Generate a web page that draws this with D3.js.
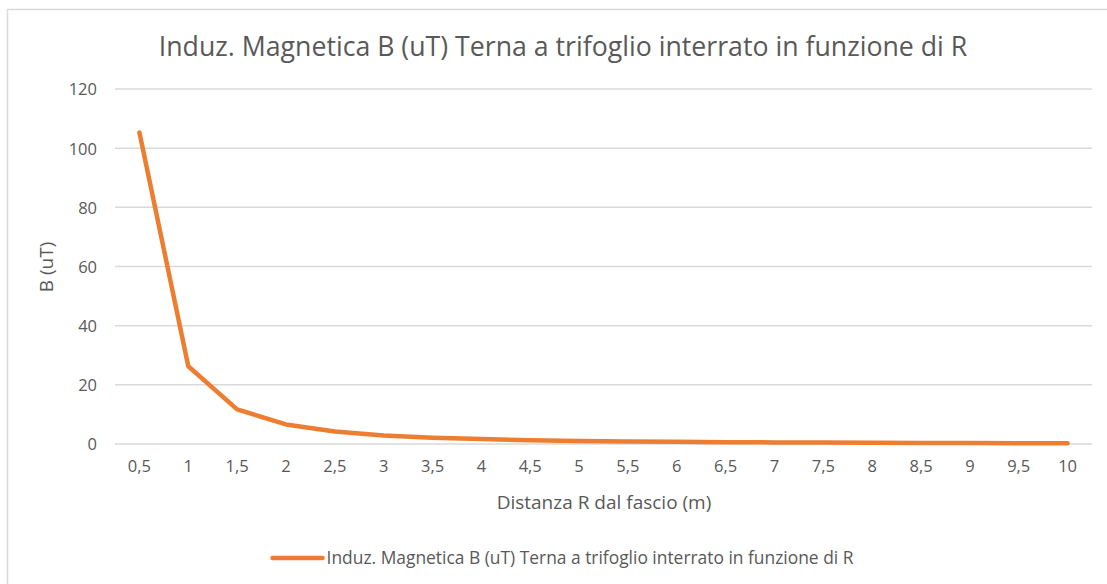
<!DOCTYPE html>
<html>
<head>
<meta charset="utf-8">
<script src="https://cdn.jsdelivr.net/npm/d3@7"></script>
<style>
  body { margin: 0; background: #fff; }
  text { font-family: "Open Sans", sans-serif; fill: #595959; }
</style>
</head>
<body>
<div id="chart"></div>
<script>
// Data
const distances = ["0,5", "1", "1,5", "2", "2,5", "3", "3,5", "4", "4,5", "5",
                   "5,5", "6", "6,5", "7", "7,5", "8", "8,5", "9", "9,5", "10"];
const fieldValues = [105.3, 26.3, 11.7, 6.6, 4.2, 2.9, 2.15, 1.65, 1.3, 1.05,
                     0.87, 0.73, 0.62, 0.54, 0.47, 0.41, 0.36, 0.33, 0.29, 0.26];
const yTicks = [0, 20, 40, 60, 80, 100, 120];

const chartTitle = "Induz. Magnetica B (uT) Terna a trifoglio interrato in funzione di R";
const seriesName = "Induz. Magnetica B (uT) Terna a trifoglio interrato in funzione di R";

const width = 1107;
const height = 584;
const plot = { left: 115, right: 1092, top: 89, bottom: 444 };
const centerX = 563;

const svg = d3.select("#chart")
  .append("svg")
  .attr("width", width)
  .attr("height", height);

// Chart area border (runs off the right and bottom edges)
svg.append("rect")
  .attr("x", 7.5)
  .attr("y", 9.5)
  .attr("width", 1120)
  .attr("height", 600)
  .attr("fill", "white")
  .attr("stroke", "#d9d9d9")
  .attr("stroke-width", 1.5);

// Scales
const x = d3.scaleBand()
  .domain(distances)
  .range([plot.left, plot.right]);

const y = d3.scaleLinear()
  .domain([0, 120])
  .range([plot.bottom, plot.top]);

// Gridlines
svg.append("g")
  .selectAll("line")
  .data(yTicks)
  .enter().append("line")
  .attr("x1", plot.left)
  .attr("x2", plot.right)
  .attr("y1", d => y(d))
  .attr("y2", d => y(d))
  .attr("stroke", "#d9d9d9")
  .attr("stroke-width", 1.5);

// Y axis labels
const yAxis = svg.append("g")
  .attr("transform", `translate(${plot.left - 18}, 0)`)
  .call(d3.axisLeft(y).tickValues(yTicks).tickSize(0).tickPadding(0));
yAxis.select(".domain").remove();
yAxis.selectAll("text")
  .style("font-size", "16.5px")
  .attr("dy", "0.36em");

// X axis labels
const xAxis = svg.append("g")
  .attr("transform", `translate(0, ${plot.bottom})`)
  .call(d3.axisBottom(x).tickSize(0).tickPadding(16));
xAxis.select(".domain").remove();
xAxis.selectAll("text")
  .style("font-size", "16.5px");

// Line
const line = d3.line()
  .x((d, i) => x(distances[i]) + x.bandwidth() / 2)
  .y(d => y(d));

svg.append("path")
  .datum(fieldValues)
  .attr("d", line)
  .attr("fill", "none")
  .attr("stroke", "#ed7d31")
  .attr("stroke-width", 4.5)
  .attr("stroke-linejoin", "round")
  .attr("stroke-linecap", "round");

// Title
svg.append("text")
  .attr("x", centerX)
  .attr("y", 56)
  .attr("text-anchor", "middle")
  .style("font-size", "26.7px")
  .text(chartTitle);

// Axis titles
svg.append("text")
  .attr("x", 604)
  .attr("y", 509)
  .attr("text-anchor", "middle")
  .style("font-size", "19px")
  .text("Distanza R dal fascio (m)");

svg.append("text")
  .attr("transform", "translate(53, 267) rotate(-90)")
  .attr("text-anchor", "middle")
  .style("font-size", "19px")
  .text("B (uT)");

// Legend
const legend = svg.append("g");
legend.append("line")
  .attr("x1", 0)
  .attr("x2", 50)
  .attr("y1", 0)
  .attr("y2", 0)
  .attr("stroke", "#ed7d31")
  .attr("stroke-width", 4.5)
  .attr("stroke-linecap", "round");
const legendText = legend.append("text")
  .attr("x", 54)
  .attr("y", 6)
  .style("font-size", "17.4px")
  .text(seriesName);
const legendWidth = 54 + legendText.node().getComputedTextLength();
legend.attr("transform", `translate(${centerX - legendWidth / 2}, 558)`);
</script>
</body>
</html>
